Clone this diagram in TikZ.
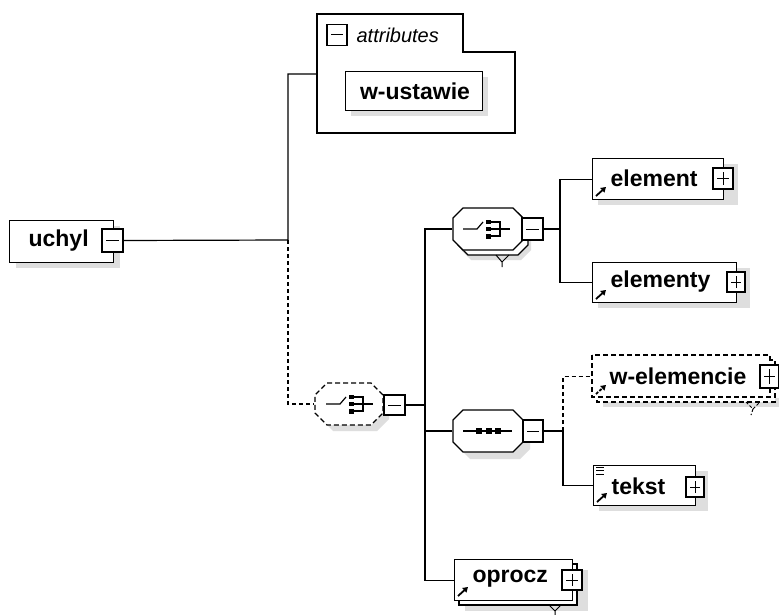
\documentclass[tikz,border=0pt]{standalone}
\usepackage{fontspec}
\setmainfont{Liberation Sans}
\usetikzlibrary{arrows.meta}
\begin{document}
\begin{tikzpicture}[x=1pt,y=-1pt,
  line width=1.2pt,
  lbl/.style={font=\fontsize{23}{25}\selectfont\bfseries, inner sep=0pt, anchor=west},
  ebox/.style={draw, fill=white, inner sep=0pt, anchor=north west},
  shade/.style={fill=black!13, draw=none},
  pmbox/.style={draw, fill=white, minimum width=20pt, minimum height=21pt, inner sep=0pt},
  pmminus/.style={pmbox, path picture={\draw[line width=1pt] ([xshift=4pt]path picture bounding box.west) -- ([xshift=-4pt]path picture bounding box.east);}},
  pmplus/.style={pmbox, path picture={\draw[line width=1pt] ([xshift=4pt]path picture bounding box.west) -- ([xshift=-4pt]path picture bounding box.east); \draw[line width=1pt] ([yshift=4pt]path picture bounding box.south) -- ([yshift=-4pt]path picture bounding box.north);}},
  conn/.style={line width=1.2pt},
  dconn/.style={line width=1.2pt, dash pattern=on 4pt off 3pt},
  dbox/.style={dash pattern=on 5pt off 3pt},
  refarrow/.style={-{Triangle[length=5pt,width=6pt]}, line width=1.8pt},
  anchorbox/.style={inner sep=0pt, draw=none},
  choiceicon/.pic={
    \draw[line width=1.2pt] (-25,0) -- (-11,0) -- (-5,-7);
    \fill (-2,-9.5) rectangle (2.5,-5); \fill (-2,-2.3) rectangle (2.5,2.3); \fill (-2,5) rectangle (2.5,9.5);
    \draw[line width=1.1pt] (2.5,-7) -- (12,-7) -- (12,7) -- (2.5,7);
    \draw[line width=1.1pt] (2.5,0) -- (22,0);
  },
  seqicon/.pic={
    \draw[line width=1.2pt] (-25,0) -- (24,0);
    \foreach \d in {-9,1,10} \fill (\d-2.6,-2.6) rectangle (\d+2.6,2.6);
  },
]
\def\octpath#1#2#3#4#5{(#1+#5,#2) -- (#3-#5,#2) -- (#3,#2+#5) -- (#3,#4-#5) -- (#3-#5,#4) -- (#1+#5,#4) -- (#1,#4-#5) -- (#1,#2+#5) -- cycle}
\useasboundingbox (0,0) rectangle (779,615);
\fill[white] (0,0) rectangle (779,615);

% ---------- attributes ----------
\draw (317,14) -- (463,14) -- (463,52) -- (515,52) -- (515,133) -- (317,133) -- cycle;
\coordinate (attrin) at (317,74);
\node[pmminus] (attrpm) at (337,35) {};
\node[font=\fontsize{20}{22}\selectfont\itshape, inner sep=0pt, anchor=west] (attrT) at (356,35) {attributes};
\fill[shade] (351,77) rectangle (488,116);
\node[ebox, minimum width=137, minimum height=39] (wust) at (345,71) {};
\node[font=\fontsize{23}{25}\selectfont\bfseries, inner sep=0pt] (wustT) at (415,91) {w-ustawie};

% ---------- uchyl ----------
\fill[shade] (16,226) rectangle (120,268);
\node[ebox, minimum width=104, minimum height=42] (uchyl) at (9,220) {};
\node[lbl] (uchylT) at (28,241) {uchyl};
\node[pmminus, minimum width=21, minimum height=23] (uchylpm) at (112.5,240.5) {};

% ---------- choice (dashed) ----------
\fill[shade] \octpath{321}{389}{389}{431}{12};
\fill[white] \octpath{315}{383}{383}{425}{12};
\draw[dbox] \octpath{315}{383}{383}{425}{12};
\node[anchorbox, minimum width=68, minimum height=42] (choice2) at (349,404) {};
\pic at (351,404) {choiceicon};
\node[pmminus, minimum width=21, minimum height=20] (c2pm) at (394.5,405) {};

% ---------- choice (top) ----------
\fill[shade] \octpath{461}{216}{531}{260}{10};
\draw[fill=white] \octpath{458}{213}{528}{255}{10};
\draw[fill=white] \octpath{453}{208}{523}{250}{10};
\node[anchorbox, minimum width=70, minimum height=42] (choice1) at (488,229) {};
\pic at (488,229) {choiceicon};
\node[pmminus, minimum width=21, minimum height=22] (c1pm) at (532.5,229) {};
\draw[line width=1pt] (496,255) -- (502,262) -- (509,255) (502,262) -- (502,267);

% ---------- sequence ----------
\fill[shade] \octpath{460}{417}{530}{459}{10};
\draw[fill=white] \octpath{453}{410}{523}{452}{10};
\node[anchorbox, minimum width=70, minimum height=42] (seq) at (488,431) {};
\pic at (488,431) {seqicon};
\node[pmminus, minimum width=20, minimum height=22] (c3pm) at (533,431) {};

% ---------- element ----------
\fill[shade] (598,164) rectangle (738,205);
\node[ebox, minimum width=131, minimum height=41] (element) at (592,158) {};
\node[lbl] (elementT) at (610,178) {element};
\draw[refarrow] (596,196) -- (606,187);
\node[pmplus, minimum width=20, minimum height=21] (elpm) at (723,178.5) {};

% ---------- elementy ----------
\fill[shade] (598,268) rectangle (750,308);
\node[ebox, minimum width=144, minimum height=40] (elementy) at (592,262) {};
\node[lbl] (elementyT) at (610,282) {elementy};
\draw[refarrow] (596,299) -- (606,290);
\node[pmplus, minimum width=18, minimum height=20] (elypm) at (736,282) {};

% ---------- w-elemencie ----------
\fill[shade] (603,398) rectangle (779,407);
\draw[dbox, fill=white] (597,360) rectangle (775,402);
\draw[dbox, fill=white] (592,355) rectangle (770,397);
\node[anchorbox, minimum width=178, minimum height=42, anchor=north west] (welem) at (592,355) {};
\node[lbl] (welemT) at (609,376) {w-elemencie};
\draw[refarrow, dash pattern=on 3pt off 1.5pt] (596,394) -- (606,385);
\node[pmplus, minimum width=19, minimum height=23] (wepm) at (769.5,376.5) {};
\draw[line width=1pt, dash pattern=on 3pt off 2pt] (746,402) -- (753,409) -- (760,402) (753,409) -- (751,415);

% ---------- tekst ----------
\fill[shade] (599,471) rectangle (708,511);
\node[ebox, minimum width=102, minimum height=40] (tekst) at (593,465) {};
\node[lbl] (tekstT) at (611,486) {tekst};
\draw[line width=0.9pt] (596,467) -- (604,467) (596,470.5) -- (604,470.5) (596,474) -- (604,474);
\draw[refarrow] (597,502) -- (607,493);
\node[pmplus, minimum width=18, minimum height=20] (tkpm) at (695,487) {};

% ---------- oprocz ----------
\fill[shade] (465,570) rectangle (588,611);
\draw[fill=white] (459,564) rectangle (577,605);
\node[ebox, minimum width=118, minimum height=41] (oprocz) at (454,559) {};
\node[lbl] (oprT) at (472,579) {oprocz};
\draw[refarrow] (458,596) -- (468,587);
\node[pmplus, minimum width=20, minimum height=20] (oppm) at (572,580) {};
\draw[line width=1pt] (549,605) -- (555,611) -- (561,605) (555,611) -- (555,615);

% ---------- connectors ----------
\coordinate (j1) at (288,240);
\draw[conn] (uchylpm.east) -- (j1) |- (attrin);
\draw[dconn] (j1) |- (choice2.west);
\coordinate (sp) at (425,405);
\draw[conn] (c2pm.east) -- (sp);
\draw[conn] (choice1.west) -| (sp) |- (oprocz.west);
\draw[conn] (seq.west) -- (seq.west -| sp);
\coordinate (sp2) at (560,229);
\draw[conn] (c1pm.east) -- (sp2);
\draw[conn] (element.west) -| (sp2) |- (elementy.west);
\coordinate (sp3) at (563,431);
\draw[conn] (c3pm.east) -- (sp3) |- (tekst.west);
\draw[dconn] (sp3) |- (welem.west);
\end{tikzpicture}
\end{document}
